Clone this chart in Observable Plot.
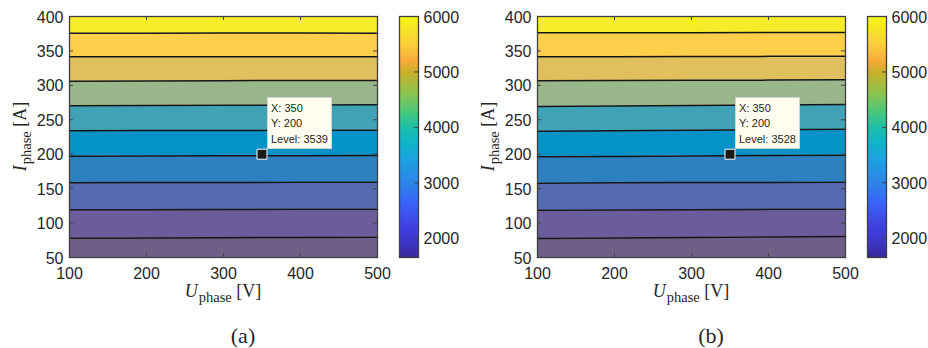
<!DOCTYPE html>
<html>
<head>
<meta charset="utf-8">
<script src="https://cdn.jsdelivr.net/npm/d3@7"></script>
<script src="https://cdn.jsdelivr.net/npm/@observablehq/plot@0.6"></script>
<style>
  html, body { margin: 0; padding: 0; background: #fff; }
  #root { position: relative; width: 928px; height: 348px; overflow: hidden; }
  #root svg { position: absolute; top: 0; }
  .cap { position: absolute; top: 325px; font-family: "Liberation Serif", serif; font-size: 22px; line-height: 22px; color: #262626; transform: translateX(-50%); white-space: nowrap; }
</style>
</head>
<body>
<div id="root"></div>
<script>
// ---- data ----
const uDomain = [100, 500];
const iDomain = [50, 400];
const uTicks = [100, 200, 300, 400, 500];
const iTicks = [50, 100, 150, 200, 250, 300, 350, 400];
const levelTicks = [2000, 3000, 4000, 5000, 6000];
const levels = [2000, 2500, 3000, 3500, 4000, 4500, 5000, 5500, 6000];
const uGrid = [100, 200, 300, 400, 500];

// contour line positions (I_phase at each U_phase sample), panel (a)
const contourA = [
  [78.1, 78.5, 78.8, 79.2, 79.5],
  [119.2, 119.5, 119.7, 120.0, 120.2],
  [158.4, 158.8, 159.0, 159.2, 159.4],
  [197.2, 197.5, 197.7, 197.9, 198.1],
  [234.0, 234.3, 234.5, 234.7, 234.9],
  [270.3, 270.7, 271.0, 271.4, 271.7],
  [306.1, 306.5, 306.8, 307.0, 307.1],
  [341.4, 341.4, 341.5, 341.5, 341.4],
  [375.8, 375.8, 375.9, 375.9, 375.8]
];
// panel (b)
const contourB = [
  [77.6, 78.2, 78.9, 79.7, 80.5],
  [118.7, 119.1, 119.5, 119.9, 120.2],
  [158.0, 158.4, 158.8, 159.1, 159.4],
  [196.2, 196.8, 197.4, 198.0, 198.6],
  [233.5, 234.2, 234.9, 235.6, 236.4],
  [269.3, 270.0, 270.7, 271.5, 272.2],
  [306.6, 306.9, 307.3, 307.6, 308.0],
  [341.4, 341.6, 341.9, 342.1, 342.4],
  [376.3, 376.4, 376.5, 376.7, 376.8]
];

const tipA = {x: 350, y: 200, level: 3539};
const tipB = {x: 350, y: 200, level: 3528};

// ---- styles ----
const bandColors = ["#6f5e87", "#6b5d9b", "#556ab0", "#2e80bf", "#0592c6",
                    "#3fa2b6", "#9ab78b", "#e0bf5d", "#fdcf4b", "#f6ec2a"];
const cbDomain = [1652, 6000];
const cbStops  = [1652, 1900, 2200, 2625, 2986, 3400, 3708, 3996, 4303, 4610, 4989, 5206, 5513, 5928, 6000];
const cbColors = ["#3a2a9a", "#3d35c4", "#4040e0", "#3a62f8", "#2e84e8", "#1ea0e0", "#10b4cc", "#1cbfa8",
                  "#4ec878", "#8cc450", "#c9b02a", "#f7ab3a", "#f9d03a", "#f5f01a", "#f8f810"];
const axisColor = "#404040";
const textColor = "#262626";
const sans = '"Liberation Sans", Arial, Helvetica, sans-serif';
const serif = '"Liberation Serif", "Times New Roman", serif';

const root = document.getElementById("root");

const tipBox = {
  draw(ctx) {
    ctx.moveTo(5.3, -57); ctx.lineTo(69.3, -57); ctx.lineTo(69.3, -6); ctx.lineTo(5.3, -6); ctx.closePath();
  }
};

function panel(contour, tip, left) {
  const W = 392, H = 300, mL = 69, mR = 15, mT = 16, mB = 43;
  const fw = W - mL - mR, fh = H - mT - mB;
  const bands = [];
  for (let b = 0; b <= contour.length; b++) {
    uGrid.forEach((u, j) => bands.push({
      band: b, u,
      lo: b === 0 ? iDomain[0] : contour[b - 1][j],
      hi: b === contour.length ? iDomain[1] : contour[b][j]
    }));
  }
  const lines = contour.flatMap((row, k) => row.map((v, j) => ({level: levels[k], u: uGrid[j], i: v})));
  const chart = Plot.plot({
    width: W, height: H, marginLeft: mL, marginRight: mR, marginTop: mT, marginBottom: mB,
    style: {fontFamily: sans, fontSize: "16px", color: textColor, background: "transparent", overflow: "visible"},
    x: {domain: uDomain},
    y: {domain: iDomain},
    color: {type: "ordinal", domain: d3.range(bandColors.length), range: bandColors},
    marks: [
      Plot.areaY(bands, {x: "u", y1: "lo", y2: "hi", z: "band", fill: "band"}),
      Plot.line(lines, {x: "u", y: "i", z: "level", stroke: "#161616", strokeWidth: 1.5}),
      Plot.tickX(uTicks, {x: d => d, insetTop: fh - 4, stroke: axisColor}),
      Plot.tickX(uTicks, {x: d => d, insetBottom: fh - 4, stroke: axisColor}),
      Plot.tickY(iTicks, {y: d => d, insetRight: fw - 4, stroke: axisColor}),
      Plot.tickY(iTicks, {y: d => d, insetLeft: fw - 4, stroke: axisColor}),
      Plot.frame({stroke: axisColor, strokeWidth: 1.3}),
      Plot.axisX({ticks: uTicks, tickSize: 0, tickPadding: 10, tickFormat: d => String(d), label: null}),
      Plot.axisY({ticks: iTicks, tickSize: 0, tickPadding: 6, dy: 1, tickFormat: d => String(d), label: null}),
      Plot.dot([tip], {x: "x", y: "y", symbol: tipBox, r: 1, fill: "#fffcf0", stroke: "#d2d2d2", strokeWidth: 1, shapeRendering: "crispEdges"}),
      Plot.text([tip], {x: "x", y: "y", text: d => `X: ${d.x}\nY: ${d.y}\nLevel: ${d.level}`,
        dx: 9, dy: -11.7, textAnchor: "start", lineAnchor: "bottom", lineHeight: 1.39,
        fontSize: 11, fontFamily: sans, fill: textColor}),
      Plot.dot([tip], {x: "x", y: "y", symbol: "square", r: 5.64, fill: "#1a1a1a", stroke: "#ffffff", strokeWidth: 1})
    ]
  });
  chart.style.left = left + "px";
  const svg = d3.select(chart);
  const xs = chart.scale("x"), ys = chart.scale("y");
  const cx = (xs.range[0] + xs.range[1]) / 2;
  const cy = (ys.range[0] + ys.range[1]) / 2;
  const xl = svg.append("text").attr("x", cx).attr("y", 297).attr("text-anchor", "middle")
    .attr("font-family", serif).attr("font-size", 18).attr("fill", textColor);
  xl.append("tspan").attr("font-style", "italic").text("U");
  xl.append("tspan").attr("font-size", 14.5).attr("dy", 5).attr("dx", 1).text("phase");
  xl.append("tspan").attr("dy", -5).text(" [V]");
  const yl = svg.append("text").attr("transform", `translate(26,${cy}) rotate(-90)`).attr("text-anchor", "middle")
    .attr("font-family", serif).attr("font-size", 18).attr("fill", textColor);
  yl.append("tspan").attr("font-style", "italic").text("I");
  yl.append("tspan").attr("font-size", 14.5).attr("dy", 5).attr("dx", 1).text("phase");
  yl.append("tspan").attr("dy", -5).text(" [A]");
  root.appendChild(chart);
}

function colorbar(left) {
  const H = 300, mT = 16, mB = 43;
  const chart = Plot.plot({
    width: 70, height: H, marginLeft: 1, marginRight: 50, marginTop: mT, marginBottom: mB,
    style: {fontFamily: sans, fontSize: "16px", color: textColor, background: "transparent", overflow: "visible"},
    x: {domain: [0, 1], axis: null},
    y: {domain: cbDomain},
    color: {type: "linear", domain: cbStops, range: cbColors, interpolate: "rgb"},
    marks: [
      Plot.raster({x1: 0, x2: 1, y1: cbDomain[0], y2: cbDomain[1], fill: (x, y) => y, width: 1, height: H - mT - mB}),
      Plot.tickY(levelTicks, {y: d => d, insetLeft: 15, stroke: axisColor}),
      Plot.frame({stroke: axisColor, strokeWidth: 1.3}),
      Plot.axisY({anchor: "right", ticks: levelTicks, tickSize: 0, tickPadding: 5, dy: 1, tickFormat: d => String(d), label: null})
    ]
  });
  chart.style.left = left + "px";
  root.appendChild(chart);
}

function caption(text, cx) {
  const d = document.createElement("div");
  d.className = "cap";
  d.style.left = cx + "px";
  d.textContent = text;
  root.appendChild(d);
}

panel(contourA, tipA, 0);
colorbar(398);
caption("(a)", 243);
panel(contourB, tipB, 468);
colorbar(866);
caption("(b)", 711);
</script>
</body>
</html>
